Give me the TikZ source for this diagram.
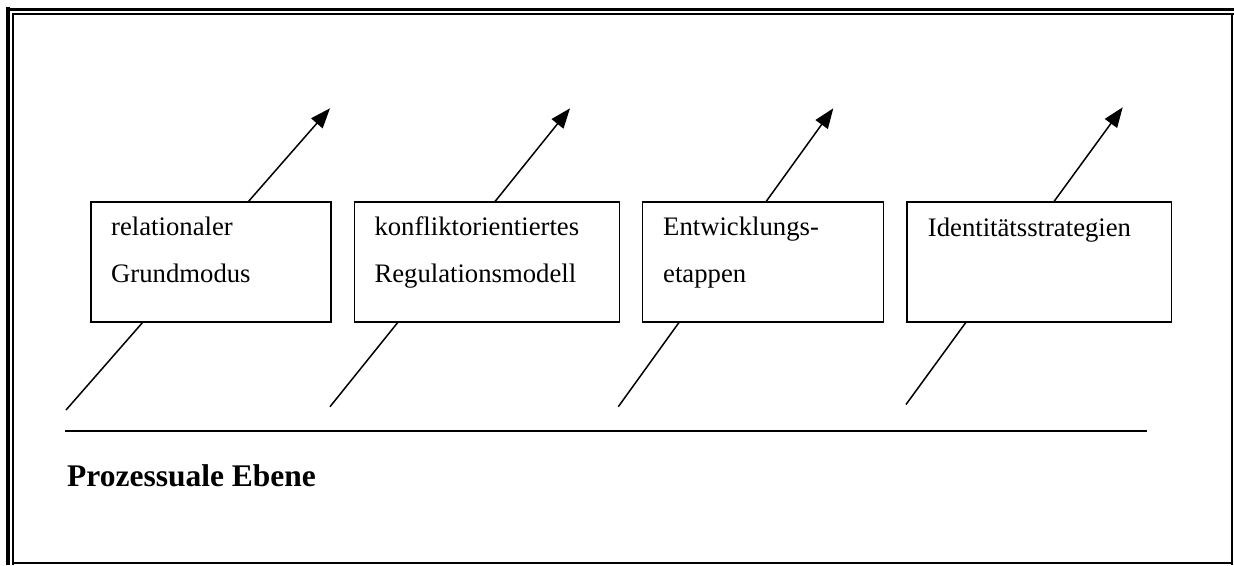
\documentclass[tikz,border=0pt]{standalone}
\usepackage{fontspec}
\setmainfont{Liberation Serif}
\usetikzlibrary{arrows.meta}
\begin{document}
\begin{tikzpicture}[x=1pt,y=-1pt,
  boxfont/.style={font=\fontsize{26.7}{32}\selectfont},
  lbl/.style={boxfont,anchor=base west,inner sep=0pt},
  panel/.style={draw,line width=1.7pt,fill=white,anchor=north west,inner sep=0pt},
  flow/.style={line width=1.5pt,-{Triangle[length=20pt,width=15pt]}},
  thick frame/.style={line width=3.8pt},
  thin frame/.style={line width=1.9pt}]
\useasboundingbox (0,0) rectangle (1234,565);
\fill[white] (0,0) rectangle (1234,565);

% page border: double on top and left, single on right and bottom
\draw[thick frame] (8,7) -- (8,565);
\draw[thick frame] (6,9.4) -- (1234,9.4);
\draw[thin frame] (13,13.2) -- (13,565);
\draw[thin frame] (12,14) -- (1234,14);
\draw[line width=2.4pt] (1232,13) -- (1232,564.5);
\draw[line width=1.8pt] (13,563.3) -- (1233,563.3);

% rising arrows (partly hidden behind the boxes)
\coordinate (s1) at (66,410);   \coordinate (e1) at (330,108.3);
\coordinate (s2) at (330,406.7); \coordinate (e2) at (570,108.3);
\coordinate (s3) at (618.3,406.7); \coordinate (e3) at (833.3,108.3);
\coordinate (s4) at (906,404.5); \coordinate (e4) at (1122.7,107.3);
\draw[flow] (s1) -- (e1);
\draw[flow] (s2) -- (e2);
\draw[flow] (s3) -- (e3);
\draw[flow] (s4) -- (e4);

% boxes
\node[panel,minimum width=240pt,minimum height=120pt] (b1) at (90,201) {};
\node[panel,minimum width=265pt,minimum height=120pt] (b2) at (353.5,201) {};
\node[panel,minimum width=241pt,minimum height=120pt] (b3) at (641.7,201) {};
\node[panel,minimum width=264.7pt,minimum height=120pt] (b4) at (906,201) {};

% box texts
\node[lbl] (t1a) at (111,235.7) {relationaler};
\node[lbl] (t1b) at (111,282) {Grundmodus};
\node[lbl] (t2a) at (374.3,235.7) {konfliktorientiertes};
\node[lbl] (t2b) at (374.3,282) {Regulationsmodell};
\node[lbl] (t3a) at (663,235.7) {Entwicklungs-};
\node[lbl] (t3b) at (663,282) {etappen};
\node[lbl] (t4a) at (927.7,236.5) {Identitätsstrategien};

% base line and level caption
\coordinate (l0) at (65,430.7);
\coordinate (l1) at (1147.3,430.7);
\draw[line width=1.6pt] (l0) -- (l1);
\node[anchor=base west,inner sep=0pt,font=\fontsize{31.5}{36}\selectfont\bfseries] (lvl) at (67,486.8) {Prozessuale Ebene};
\end{tikzpicture}
\end{document}
